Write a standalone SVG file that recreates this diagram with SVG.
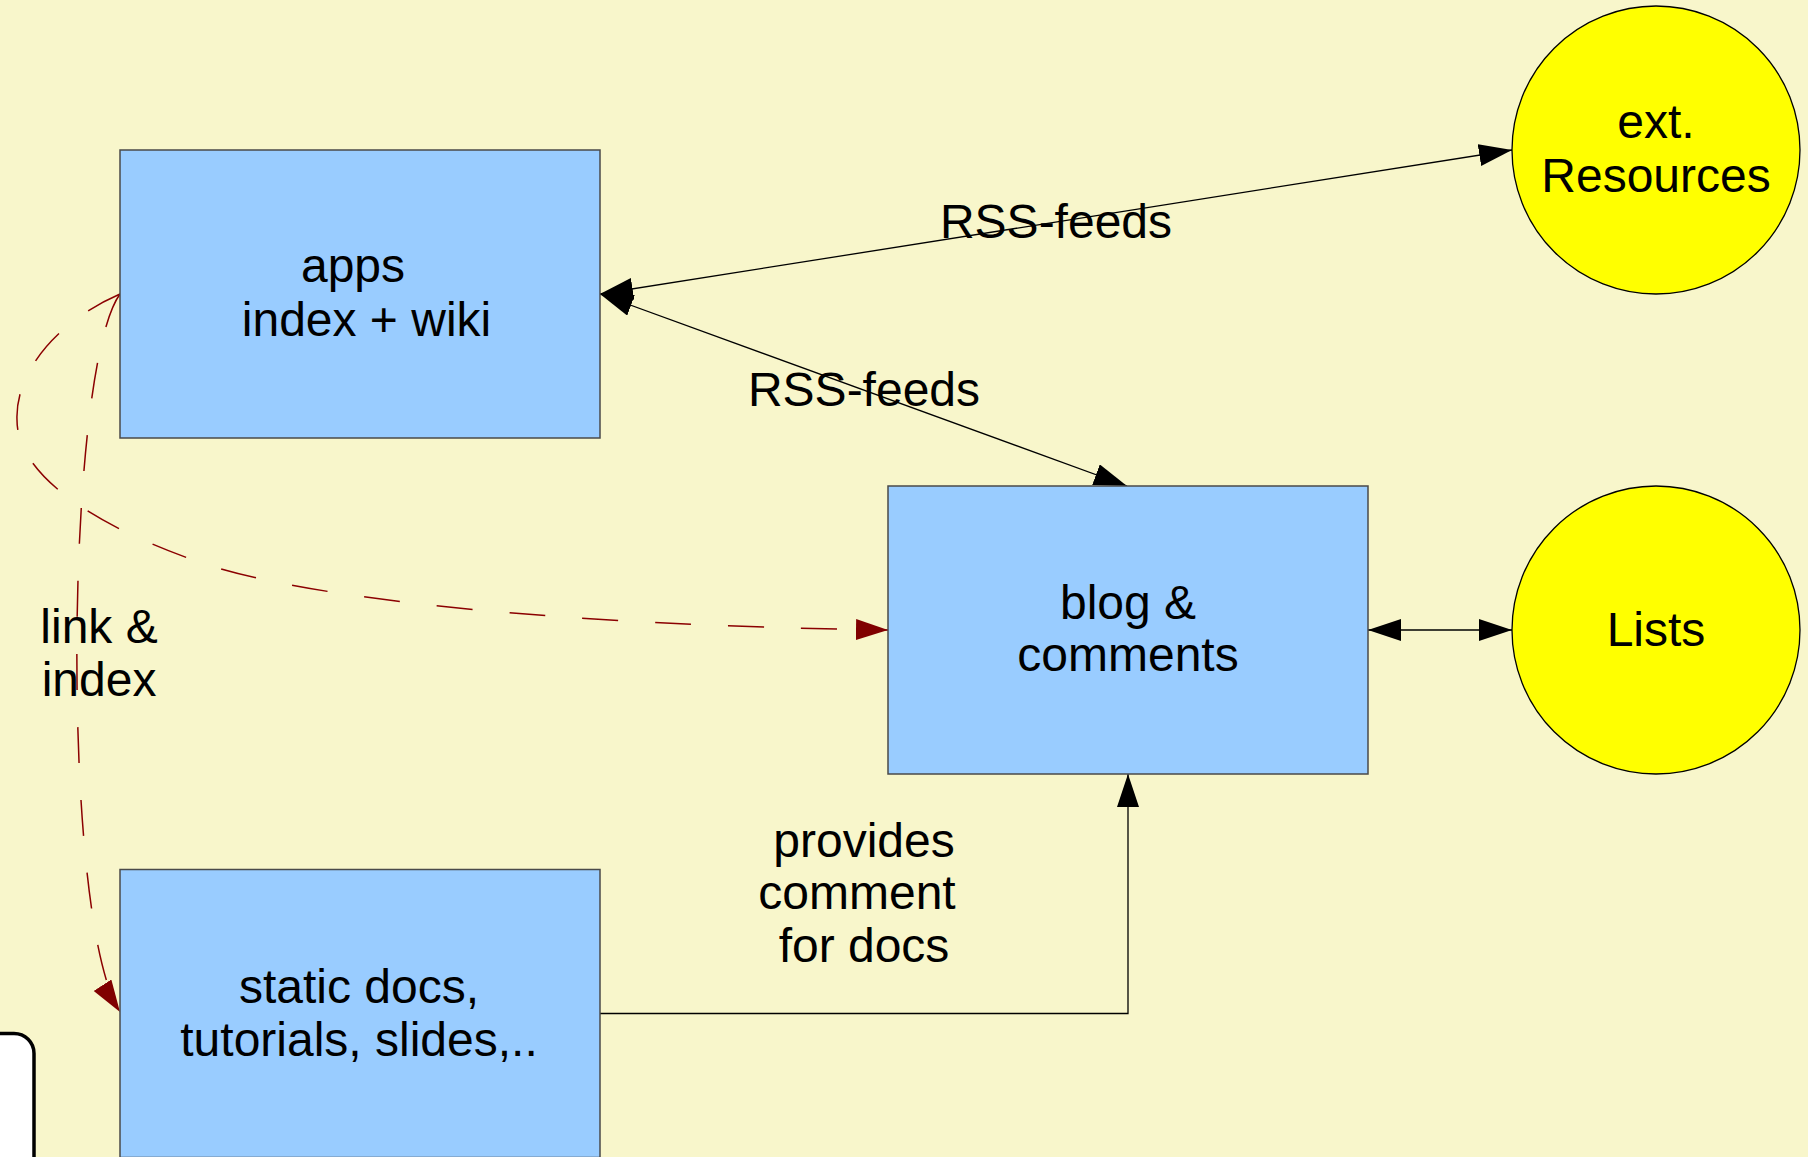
<svg xmlns="http://www.w3.org/2000/svg" width="1808" height="1157" viewBox="0 0 1808 1157">
<defs>
<style>
.box{fill:#99CCFF;stroke:#4a4a4a;stroke-width:1.5}
.circ{fill:#FFFF00;stroke:#000;stroke-width:1.3}
.t{font-family:"Liberation Sans",Arial,sans-serif;font-size:48px;fill:#000;text-anchor:middle}
.conn{fill:none;stroke:#000;stroke-width:1.3}
.dash{fill:none;stroke:#8B0000;stroke-width:1.5;stroke-dasharray:36 37}
</style>
<marker id="ah" markerUnits="userSpaceOnUse" markerWidth="34" markerHeight="23" refX="33" refY="11" orient="auto-start-reverse" viewBox="0 0 34 23">
<path d="M0,0 L33,11 L0,22 z" fill="#000"/>
</marker>
<marker id="ahr" markerUnits="userSpaceOnUse" markerWidth="33" markerHeight="22" refX="32" refY="10.5" orient="auto" viewBox="0 0 33 22">
<path d="M0,0 L32,10.5 L0,21 z" fill="#800000"/>
</marker>
</defs>
<rect x="0" y="0" width="1808" height="1157" fill="#F8F6CB"/>

<g id="connectors">
<path class="conn" d="M600,294 L1512,150" marker-start="url(#ah)" marker-end="url(#ah)"/>
<path class="conn" d="M600,294 L1127,486" marker-start="url(#ah)" marker-end="url(#ah)"/>
<path class="conn" d="M1368,630 L1512,630" marker-start="url(#ah)" marker-end="url(#ah)"/>
<path class="conn" d="M600,1013.5 L1128,1013.5 L1128,774" marker-end="url(#ah)"/>
<path class="dash" d="M120,294 C60,320 15,370 17,420 C17,475 95,527 205,564 C315,600 560,625 888,630" marker-end="url(#ahr)"/>
<path class="dash" d="M120,294 C65,370 60,920 120,1012" marker-end="url(#ahr)"/>
<text class="t" x="1056" y="238">RSS-feeds</text>
<text class="t" x="864" y="406">RSS-feeds</text>
<text class="t" x="864" y="857">provides</text>
<text class="t" x="857" y="909">comment</text>
<text class="t" x="864" y="962">for docs</text>
<text class="t" x="99" y="643">link &amp;</text>
<text class="t" x="99" y="696">index</text>
</g>

<g id="apps">
<rect class="box" x="120" y="150" width="480" height="288"/>
<text class="t" x="353" y="282">apps</text>
<text class="t" x="366.5" y="336">index + wiki</text>
</g>

<g id="blog">
<rect class="box" x="888" y="486" width="480" height="288"/>
<text class="t" x="1128" y="619">blog &amp;</text>
<text class="t" x="1128" y="671">comments</text>
</g>

<g id="static">
<rect class="box" x="120" y="869.5" width="480" height="288"/>
<text class="t" x="359" y="1003">static docs,</text>
<text class="t" x="359" y="1056">tutorials, slides,..</text>
</g>

<g id="ext">
<circle class="circ" cx="1656" cy="150" r="144"/>
<text class="t" x="1656" y="138">ext.</text>
<text class="t" x="1656" y="192">Resources</text>
</g>

<g id="lists">
<circle class="circ" cx="1656" cy="630" r="144"/>
<text class="t" x="1656" y="646">Lists</text>
</g>

<g id="corner-widget">
<rect x="-30" y="1033.5" width="64" height="200" rx="20" ry="20" fill="#fff" stroke="#000" stroke-width="3.5"/>
</g>
</svg>
